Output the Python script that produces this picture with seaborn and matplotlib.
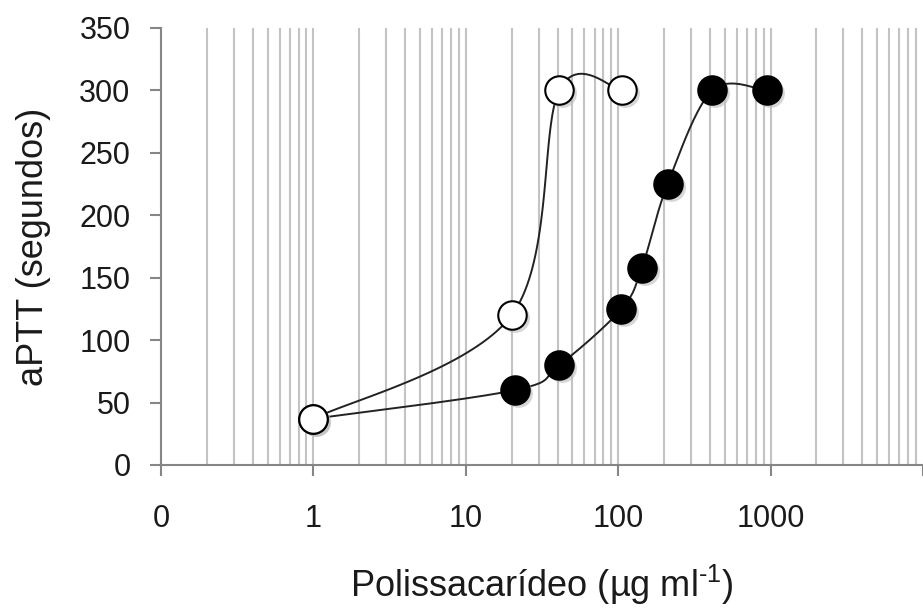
import numpy as np
import pandas as pd
import matplotlib
matplotlib.use("Agg")
import matplotlib.pyplot as plt
import seaborn as sns

# ---- data ----
open_x = [1, 20, 41, 106]
open_y = [37, 120, 300, 300]
filled_x = [1, 21, 41, 105, 143, 211, 414, 942]
filled_y = [37, 60, 80, 125, 158, 225, 300, 300]
xtick_vals = [0.1, 1, 10, 100, 1000, 10000]
xtick_labels = ["0", "1", "10", "100", "1000", ""]
ytick_vals = [0, 50, 100, 150, 200, 250, 300, 350]

sns.set_style("white")
plt.rcParams['font.family'] = ['Liberation Sans', 'DejaVu Sans']
plt.rcParams['mathtext.fontset'] = 'custom'
plt.rcParams['mathtext.rm'] = 'Liberation Sans'
plt.rcParams['mathtext.it'] = 'Liberation Sans'


def smooth(xs, ys, n=40):
    """Excel-like Bezier smoothing in (log10 x, y) space."""
    u = np.log10(np.asarray(xs, float))
    v = np.asarray(ys, float)
    P = np.column_stack([u, v])
    m = len(P)
    out = []
    for i in range(m - 1):
        p0 = P[i - 1] if i > 0 else P[i]
        p1 = P[i]
        p2 = P[i + 1]
        p3 = P[i + 2] if i + 2 < m else P[i + 1]
        c1 = p1 + (p2 - p0) / 6.0
        c2 = p2 - (p3 - p1) / 6.0
        t = np.linspace(0, 1, n)[:, None]
        seg = ((1 - t) ** 3) * p1 + 3 * ((1 - t) ** 2) * t * c1 + 3 * (1 - t) * t ** 2 * c2 + t ** 3 * p2
        out.append(seg if i == 0 else seg[1:])
    S = np.vstack(out)
    return pd.DataFrame({"x": 10 ** S[:, 0], "y": S[:, 1]})


W, H = 923, 612
left_px, right_px, top_px, bottom_px = 161, 923, 28, 465
decade_px = 154.0
fig = plt.figure(figsize=(W / 100, H / 100), dpi=100)
ax = fig.add_axes([left_px / W, 1 - bottom_px / H, (right_px - left_px) / W, (bottom_px - top_px) / H])
ax.set_xscale("log")
ax.set_xlim(0.1, 10 ** ((right_px - left_px) / decade_px - 1))
ax.set_ylim(0, 350)

# vertical gridlines at every log position
grid_positions = []
for d in [0.1, 1, 10, 100, 1000]:
    for k in range(1, 10):
        grid_positions.append(d * k)
for gx in grid_positions[1:]:
    ax.axvline(gx, color="#c3c3c3", lw=1.5, zorder=0)

fs = smooth(filled_x, filled_y)
os_ = smooth(open_x, open_y)
sns.lineplot(data=fs, x="x", y="y", sort=False, estimator=None, color="#222222", lw=1.4, ax=ax, zorder=2)
sns.lineplot(data=os_, x="x", y="y", sort=False, estimator=None, color="#222222", lw=1.4, ax=ax, zorder=2)

# marker shadows
for xs_, ys_ in [(filled_x, filled_y), (open_x, open_y)]:
    ax.scatter(np.array(xs_) * 10 ** (3 / decade_px), np.array(ys_) - 3 / 1.249, s=430, color="#bbbbbb",
               alpha=0.6, linewidths=0, zorder=2.5)

sns.scatterplot(x=filled_x, y=filled_y, s=420, color="black", edgecolor="black", linewidth=1.5,
                ax=ax, zorder=3)
sns.scatterplot(x=open_x, y=open_y, s=420, color="white", edgecolor="black", linewidth=1.5,
                ax=ax, zorder=4)

ax.set_xticks(xtick_vals)
ax.set_xticklabels(xtick_labels)
ax.xaxis.set_minor_locator(matplotlib.ticker.NullLocator())
ax.set_yticks(ytick_vals)

for s in ["top", "right"]:
    ax.spines[s].set_visible(False)
for s in ["left", "bottom"]:
    ax.spines[s].set_color("#868686")
    ax.spines[s].set_linewidth(1.5)

ax.tick_params(axis="y", direction="out", length=8, width=1.5, color="#868686",
               labelsize=22, labelcolor="#1a1a1a", pad=14, left=True)
ax.tick_params(axis="x", direction="out", length=8, width=1.5, color="#868686",
               labelsize=22, labelcolor="#1a1a1a", pad=20, bottom=True)

ax.set_ylabel("aPTT (segundos)", fontsize=26, color="#1a1a1a", labelpad=20)
ax.set_xlabel(r"Polissacarídeo (µg ml$^{\text{-1}}$)", fontsize=26, color="#1a1a1a", labelpad=21)

fig.savefig("out.png", dpi=100)
